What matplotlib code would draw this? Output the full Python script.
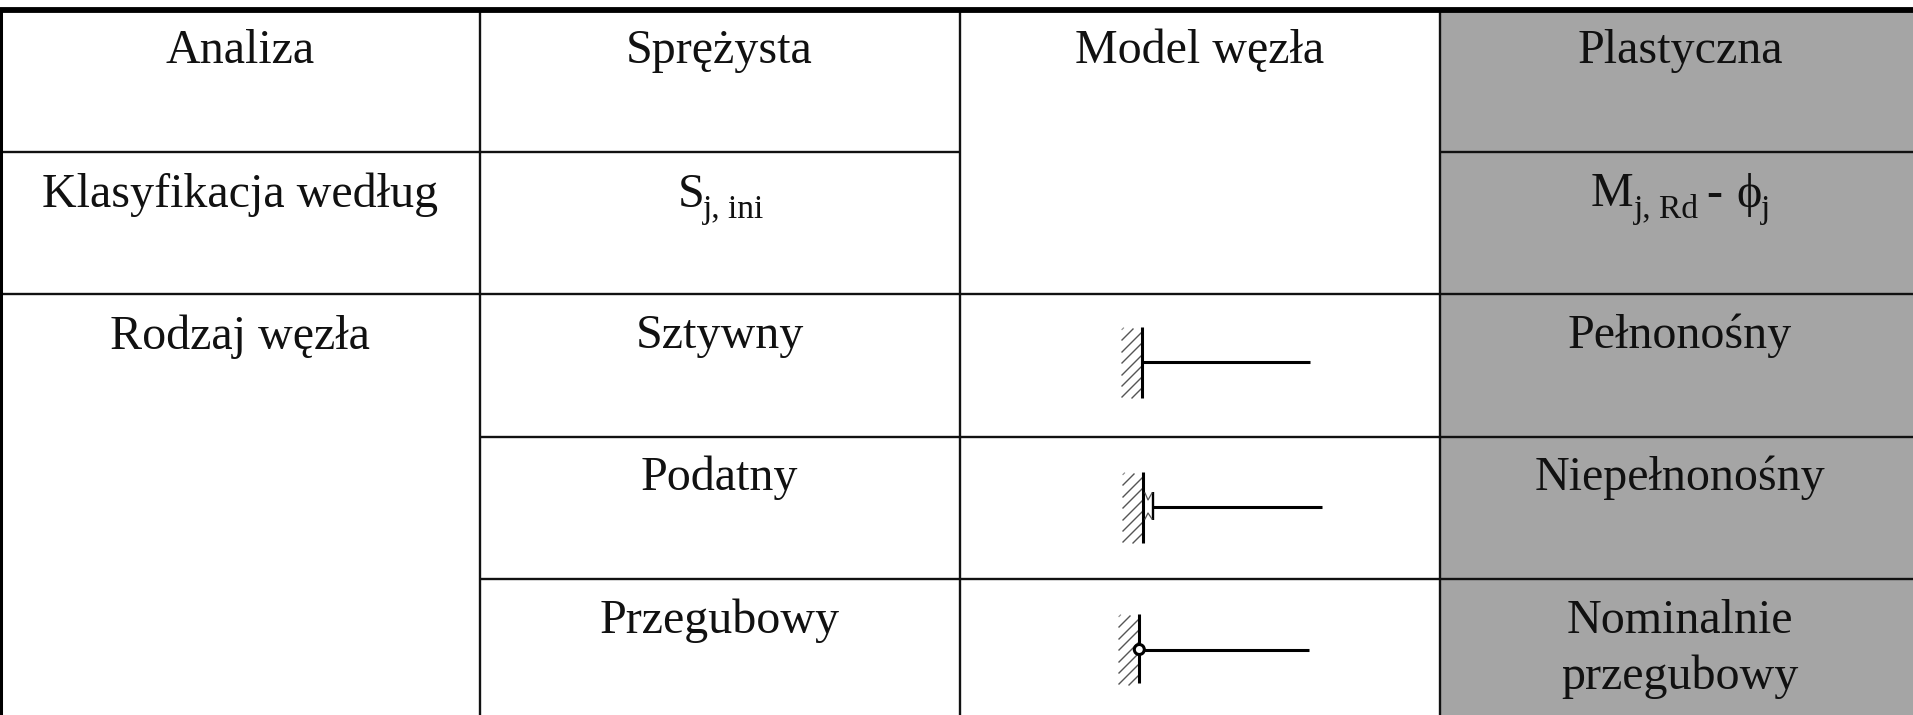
import matplotlib
matplotlib.use("Agg")
import matplotlib.pyplot as plt
from matplotlib.patches import Rectangle, Circle

plt.rcParams['font.family'] = ['Liberation Serif', 'DejaVu Sans']

W, H = 1913, 715
col_edges = [0, 480, 960, 1440, 1913]
row_edges = [10, 152, 294, 436.5, 578.5, 715]
GRAY = '#A5A5A5'

col0 = ['Analiza', 'Klasyfikacja według', 'Rodzaj węzła']
col1 = ['Sprężysta', None, 'Sztywny', 'Podatny', 'Przegubowy']
col2_head = 'Model węzła'
col3 = ['Plastyczna', None, 'Pełnonośny', 'Niepełnonośny', 'Nominalnie', 'przegubowy']

FS = 34.6
SUB = 24

fig = plt.figure(figsize=(W / 100, H / 100), dpi=100, facecolor='white')
ax = fig.add_axes([0, 0, 1, 1])
ax.set_xlim(0, W)
ax.set_ylim(H, 0)
ax.axis('off')

ax.add_patch(Rectangle((col_edges[3], row_edges[0]), col_edges[4] - col_edges[3],
                       H - row_edges[0], fc=GRAY, ec='none', zorder=0))


def hline(y, x0, x1, lw=1.7):
    ax.plot([x0, x1], [y, y], color='#111111', lw=lw, solid_capstyle='butt', zorder=2)


def vline(x, y0, y1, lw=1.7, color='#111111'):
    ax.plot([x, x], [y0, y1], color=color, lw=lw, solid_capstyle='butt', zorder=2)


hline(row_edges[1], 0, 960)
hline(row_edges[1], 1440, W)
hline(row_edges[2], 0, W)
hline(row_edges[3], 480, W)
hline(row_edges[4], 480, W)
for x in col_edges[1:4]:
    vline(x, 10, H)
vline(1, 10, H, lw=2.9, color='black')
ax.plot([0, W], [10, 10], color='black', lw=4.2, solid_capstyle='butt', zorder=2)


def txt(x, y, s, size=FS, ha='center'):
    ax.text(x, y, s, fontsize=size, ha=ha, va='baseline', color='#111111', zorder=3)


txt(240, 63, col0[0])
txt(240, 207, col0[1])
txt(240, 349, col0[2])
txt(719.5, 63, col1[0])
txt(719.5, 348, col1[2])
txt(719.5, 490, col1[3])
txt(719.5, 633, col1[4])
txt(1200, 63, col2_head)
txt(1680, 63, col3[0])
txt(1680, 348, col3[2])
txt(1680, 490, col3[3])
txt(1680, 633, col3[4])
txt(1680, 689, col3[5])

# S_j,ini
txt(678, 207, 'S', ha='left')
txt(703, 218, 'j, ini', size=SUB, ha='left')
# M_j,Rd - phi_j
txt(1591, 206, 'M', ha='left')
txt(1634, 218, 'j, Rd', size=SUB, ha='left')
txt(1706, 207, '-', ha='left')
txt(1736, 207, 'ϕ', ha='left')
txt(1761, 218, 'j', size=SUB, ha='left')

SYM_LW = 2.2
HATCH_STARTS = [12, 24, 35, 47, 58, 69]


def hatch(x_wall, y0):
    left = x_wall - 20
    for k in HATCH_STARTS:
        ya = y0 + k
        run = min(19, k - 1)
        ax.plot([left, left + run], [ya, ya - run], color='#555555', lw=1.0, zorder=1)
    ax.plot([left, left + 1.5], [y0 + 1.5, y0], color='#888888', lw=0.8, zorder=1)
    ax.plot([x_wall - 10, x_wall - 1], [y0 + 70, y0 + 61], color='#555555', lw=1.0, zorder=1)


def member(x0, x1, y):
    ax.plot([x0, x1], [y, y], color='black', lw=SYM_LW, solid_capstyle='butt', zorder=4)


# rigid
vline(1142, 327, 398, lw=SYM_LW, color='black')
hatch(1142, 328)
member(1142, 1310, 362)

# semi-rigid
vline(1143, 472, 543, lw=SYM_LW, color='black')
hatch(1143, 473)
member(1153, 1322, 506.5)
vline(1153, 492, 520, lw=1.7, color='black')
ax.plot([1145, 1148, 1152], [493, 500, 493], color='#555555', lw=0.9, zorder=3)
ax.plot([1145, 1148, 1152], [519, 513, 519], color='#555555', lw=0.9, zorder=3)

# pinned
vline(1139, 614, 683, lw=SYM_LW, color='black')
hatch(1139, 615)
member(1139, 1309, 649.5)
ax.add_patch(Circle((1139.3, 649.5), 5, fc='white', ec='black', lw=2.2, zorder=5))

fig.savefig('out.png', dpi=100, facecolor='white')
